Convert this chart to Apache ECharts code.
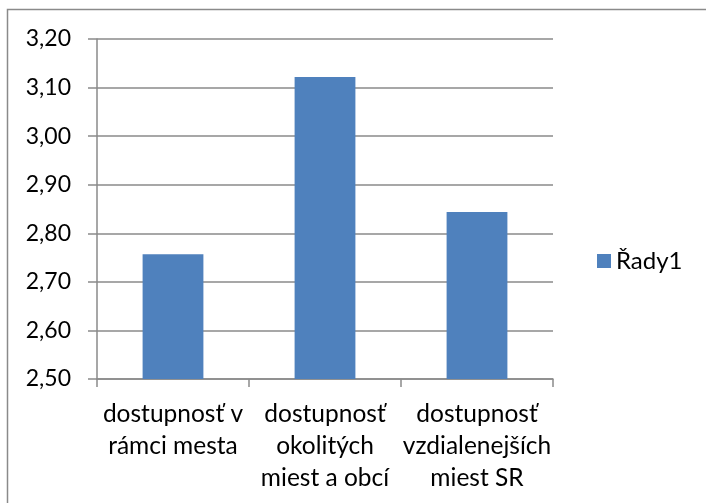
<!DOCTYPE html>
<html>
<head>
<meta charset="utf-8">
<script src="https://cdn.jsdelivr.net/npm/echarts@6/dist/echarts.min.js"></script>
<style>
html,body{margin:0;padding:0;background:#fff;}
#chart{width:706px;height:503px;}
</style>
</head>
<body>
<div id="chart"></div>
<script>
const categories = [
  "dostupnosť v\nrámci mesta",
  "dostupnosť\nokolitých\nmiest a obcí",
  "dostupnosť\nvzdialenejších\nmiest SR"
];
const seriesName = "Řady1";
const values = [2.757, 3.122, 2.844];
const yMin = 2.5, yMax = 3.2, yStep = 0.1;

const chart = echarts.init(document.getElementById('chart'), null, {renderer: 'canvas'});
const FONT = 'Lato';
const GRAY = '#8a8a8a';
chart.setOption({
  animation: false,
  backgroundColor: '#ffffff',
  graphic: [{
    type: 'rect',
    shape: {x: 7.5, y: 9.5, width: 800, height: 600},
    style: {fill: 'none', stroke: GRAY, lineWidth: 1.5},
    silent: true
  }],
  grid: {left: 97, right: 153, top: 39, bottom: 124, containLabel: false},
  legend: {
    left: 592, top: 244,
    itemWidth: 14, itemHeight: 14,
    icon: 'rect',
    textStyle: {fontFamily: FONT, fontSize: 24, color: '#000'},
    data: [seriesName]
  },
  xAxis: {
    type: 'category',
    data: categories,
    axisLine: {lineStyle: {color: GRAY, width: 1.5}},
    axisTick: {show: true, alignWithLabel: false, length: 8, lineStyle: {color: GRAY, width: 1.5}},
    axisLabel: {
      interval: 0, margin: 19, color: '#000',
      fontFamily: FONT, fontSize: 24.5, lineHeight: 32, align: 'center'
    }
  },
  yAxis: {
    type: 'value',
    min: yMin, max: yMax, interval: yStep,
    axisLine: {show: true, lineStyle: {color: GRAY, width: 1.5}},
    axisTick: {show: true, length: 9, lineStyle: {color: GRAY, width: 1.5}},
    splitLine: {show: true, lineStyle: {color: GRAY, width: 1.5}},
    axisLabel: {
      margin: 26, color: '#000', fontFamily: FONT, fontSize: 23,
      formatter: v => v.toFixed(2).replace('.', ',')
    }
  },
  series: [{
    name: seriesName,
    type: 'bar',
    data: values,
    barCategoryGap: '60%',
    itemStyle: {color: '#4f81bd'}
  }]
});
</script>
</body>
</html>
